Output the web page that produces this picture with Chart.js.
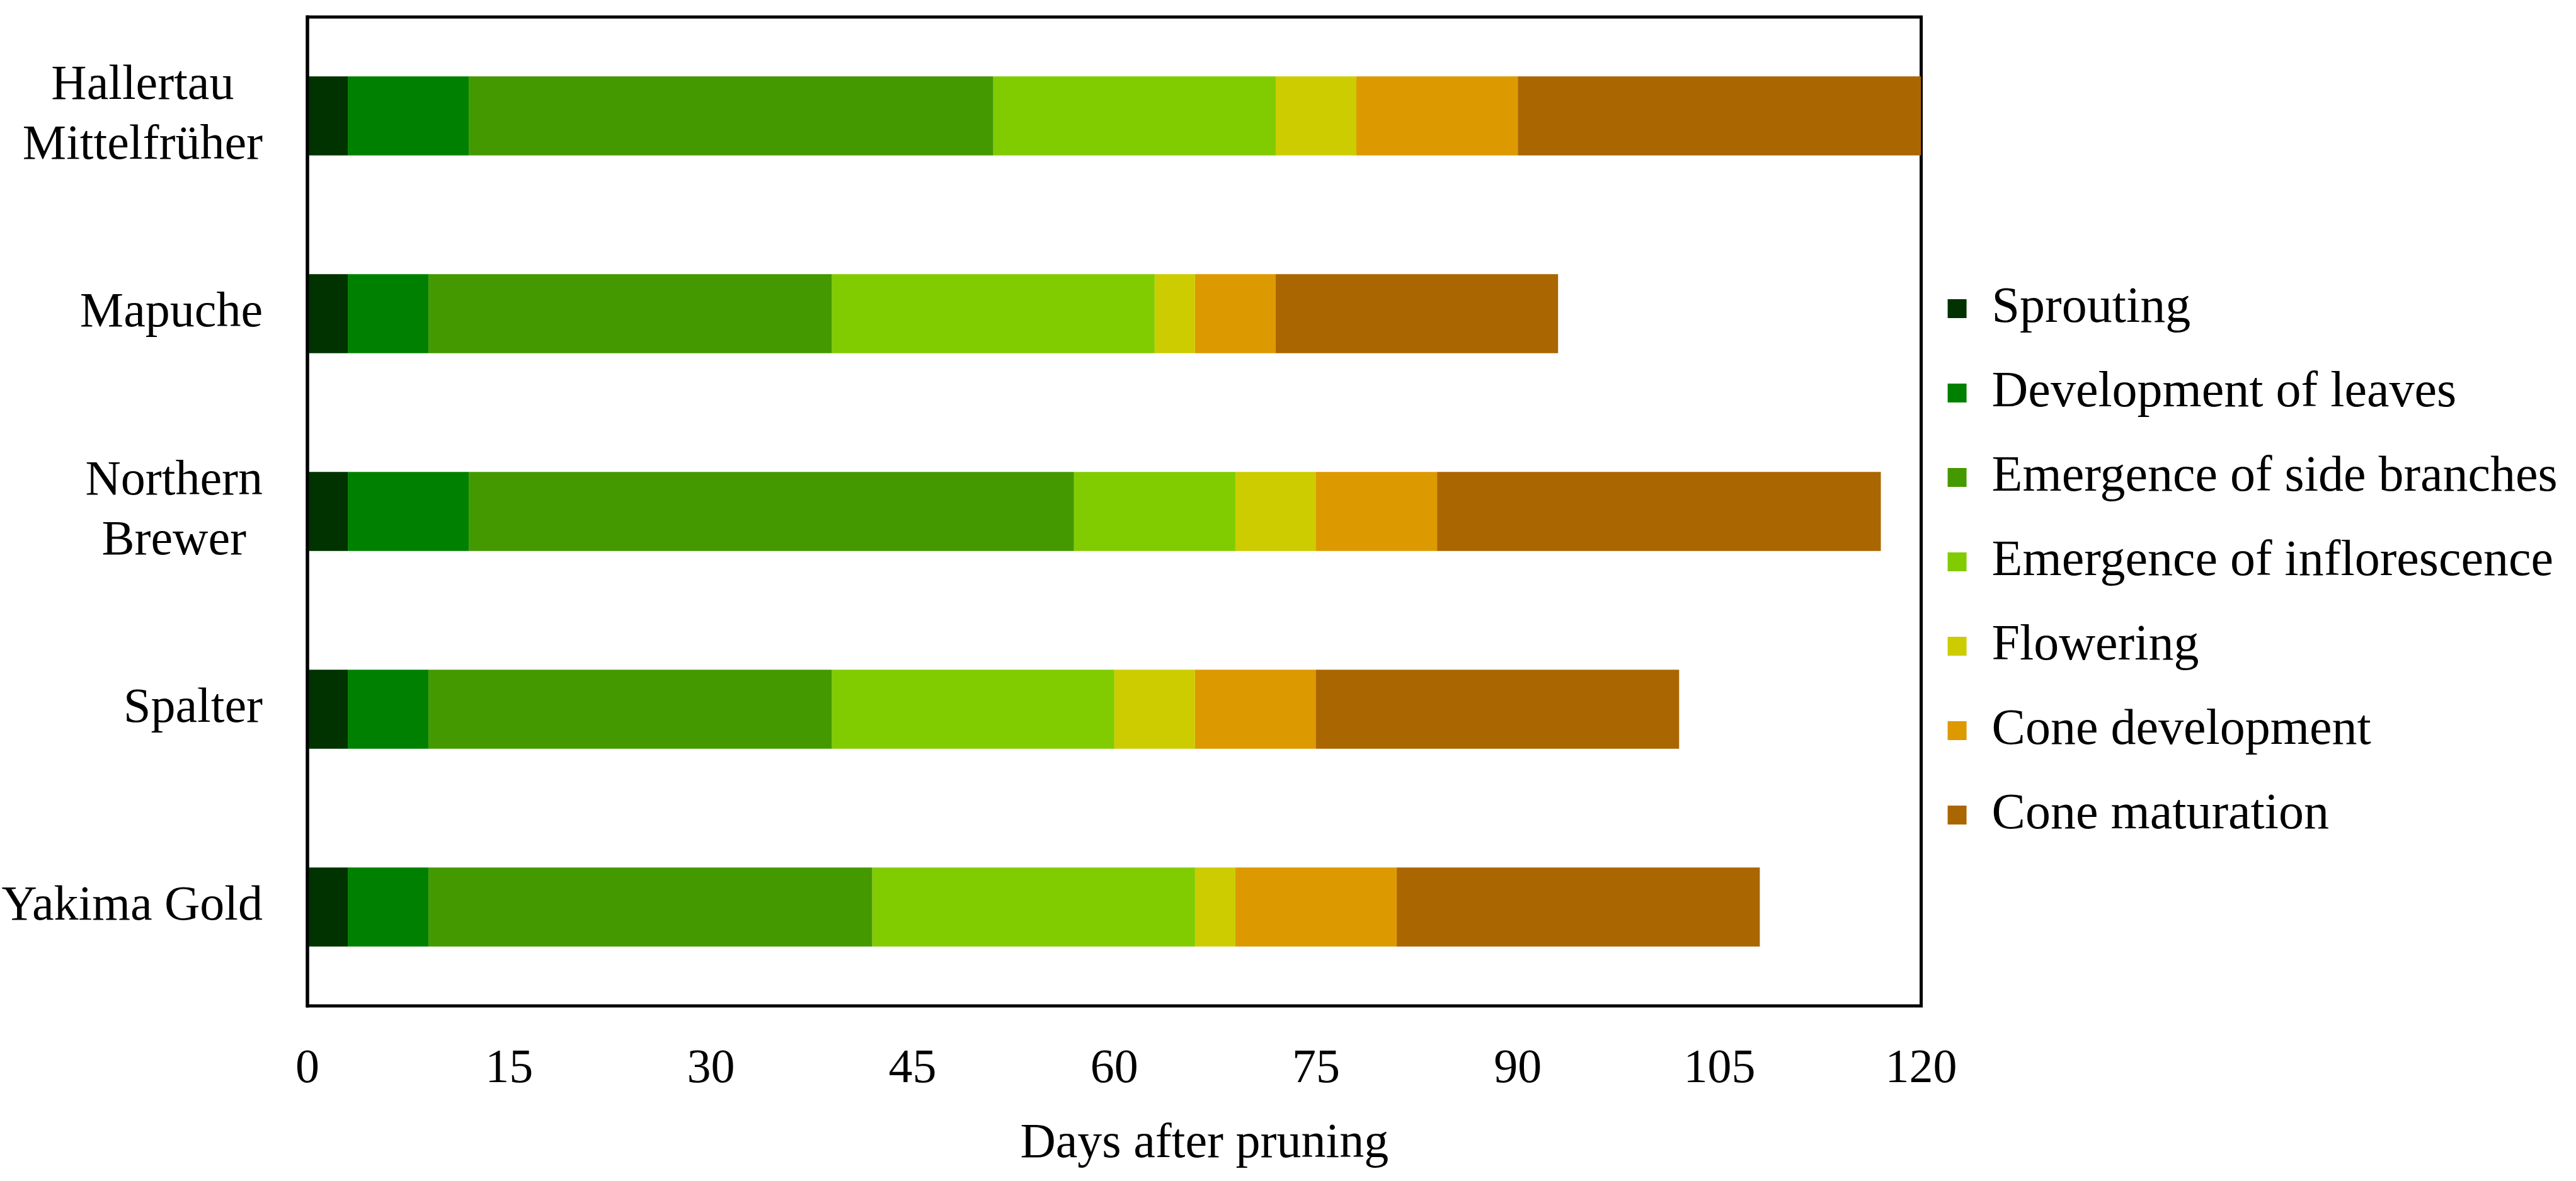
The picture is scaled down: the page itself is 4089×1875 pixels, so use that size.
<!DOCTYPE html>
<html>
<head>
<meta charset="utf-8">
<script src="https://cdn.jsdelivr.net/npm/chart.js@4.4.1/dist/chart.umd.min.js"></script>
<style>
  html, body { margin: 0; padding: 0; background: #ffffff; }
  #wrap { width: 4089px; height: 1875px; position: relative; }
</style>
</head>
<body>
<div id="wrap"><canvas id="c"></canvas></div>
<script>
// ---- Data ----
const categories = [['Hallertau', 'Mittelfrüher'], 'Mapuche', ['Northern', 'Brewer'], 'Spalter', 'Yakima Gold'];
const phaseNames = ['Sprouting', 'Development of leaves', 'Emergence of side branches',
  'Emergence of inflorescence', 'Flowering', 'Cone development', 'Cone maturation'];
// durations (days) of each phase per variety
const sprouting     = [3, 3, 3, 3, 3];
const leaves        = [9, 6, 9, 6, 6];
const sideBranches  = [39, 30, 45, 30, 33];
const inflorescence = [21, 24, 12, 21, 24];
const flowering     = [6, 3, 6, 6, 3];
const coneDev       = [12, 6, 9, 9, 12];
const coneMat       = [30, 21, 33, 27, 27];
const xTicks = [0, 15, 30, 45, 60, 75, 90, 105, 120];
const xTitle = 'Days after pruning';

const seriesValues = [sprouting, leaves, sideBranches, inflorescence, flowering, coneDev, coneMat];
const colors = ['#003300', '#008000', '#449900', '#80CC00', '#CCCC00', '#DD9900', '#AA6600'];

const FONT = "'Liberation Serif', 'Times New Roman', serif";
const TEXT_SIZE = 78;
const LEG_SIZE = 80;
const TICK_SIZE = 76;

// layout helpers
const CHART_RIGHT = 3046;
const LEG_PAD = 42, BOX = 30;
const mctx = document.createElement('canvas').getContext('2d');
mctx.font = LEG_SIZE + 'px ' + FONT;
const maxLegW = Math.max(...phaseNames.map(n => mctx.measureText(n).width));
const legendWidth = LEG_PAD + BOX + LEG_SIZE / 2 + maxLegW + 10;
const padRight = 4089 - CHART_RIGHT - legendWidth;

const framePlugin = {
  id: 'frame',
  beforeDatasetsDraw(chart) {
    const a = chart.chartArea, ctx = chart.ctx;
    ctx.save();
    ctx.strokeStyle = '#000';
    ctx.lineWidth = 5;
    ctx.strokeRect(a.left, a.top, a.right - a.left, a.bottom - a.top);
    ctx.restore();
  },
  afterDatasetsDraw(chart) {
    const a = chart.chartArea, ctx = chart.ctx;
    ctx.save();
    ctx.strokeStyle = '#000';
    ctx.lineWidth = 5;
    ctx.beginPath();
    ctx.moveTo(a.left, a.top - 2.5);
    ctx.lineTo(a.left, a.bottom + 2.5);
    ctx.stroke();
    ctx.restore();
  }
};

const labelPlugin = {
  id: 'labels',
  afterDraw(chart) {
    const ys = chart.scales.y, ctx = chart.ctx, a = chart.chartArea;
    ctx.save();
    ctx.font = TEXT_SIZE + 'px ' + FONT;
    ctx.fillStyle = '#000';
    ctx.textAlign = 'center';
    ctx.textBaseline = 'middle';
    ys.ticks.forEach((t, i) => {
      const lab = chart.data.labels[i];
      const lines = Array.isArray(lab) ? lab : [lab];
      const w = Math.max(...lines.map(l => ctx.measureText(l).width));
      const cx = ys.right - 71 - w / 2;
      const cy = ys.getPixelForTick(i);
      lines.forEach((l, j) => ctx.fillText(l, cx, cy + (j - (lines.length - 1) / 2) * 95));
    });
    // x-axis title (offset to the right as in the original figure)
    ctx.fillText(xTitle, (a.left + a.right) / 2 + 143, 1817);
    ctx.restore();
  }
};

new Chart(document.getElementById('c'), {
  type: 'bar',
  data: {
    labels: categories,
    datasets: phaseNames.map((name, k) => ({
      label: name,
      data: seriesValues[k],
      backgroundColor: colors[k],
      borderWidth: 0,
      barPercentage: 1.0,
      categoryPercentage: 0.4
    }))
  },
  options: {
    indexAxis: 'y',
    responsive: true,
    maintainAspectRatio: false,
    devicePixelRatio: 1,
    animation: false,
    layout: { padding: { top: 27, left: 0, bottom: 0, right: padRight } },
    scales: {
      x: {
        stacked: true,
        min: 0,
        max: 120,
        afterBuildTicks(scale) { scale.ticks = xTicks.map(v => ({ value: v })); },
        afterFit(scale) { scale.height = 278; },
        grid: { display: false, drawTicks: false },
        border: { display: false },
        ticks: {
          color: '#000',
          font: { family: FONT, size: TICK_SIZE, lineHeight: 1.2 },
          padding: 55,
          maxRotation: 0
        },
        title: { display: false, text: xTitle }
      },
      y: {
        stacked: true,
        grid: { display: false, drawTicks: false },
        border: { display: false },
        ticks: { display: false },
        afterFit(scale) { scale.width = 488; }
      }
    },
    plugins: {
      tooltip: { enabled: false },
      legend: {
        display: true,
        position: 'right',
        align: 'center',
        fullSize: false,
        title: { display: true, text: '', font: { size: 10, lineHeight: 1.2 }, padding: { top: 80, bottom: 80 } },
        labels: {
          boxWidth: BOX,
          boxHeight: BOX,
          padding: LEG_PAD,
          color: '#000',
          font: { family: FONT, size: LEG_SIZE, lineHeight: 1.15 },
          generateLabels(chart) {
            const items = Chart.defaults.plugins.legend.labels.generateLabels(chart);
            items.forEach(it => { it.text = [it.text]; it.lineWidth = 0; });
            return items;
          }
        }
      }
    }
  },
  plugins: [framePlugin, labelPlugin]
});
</script>
</body>
</html>
